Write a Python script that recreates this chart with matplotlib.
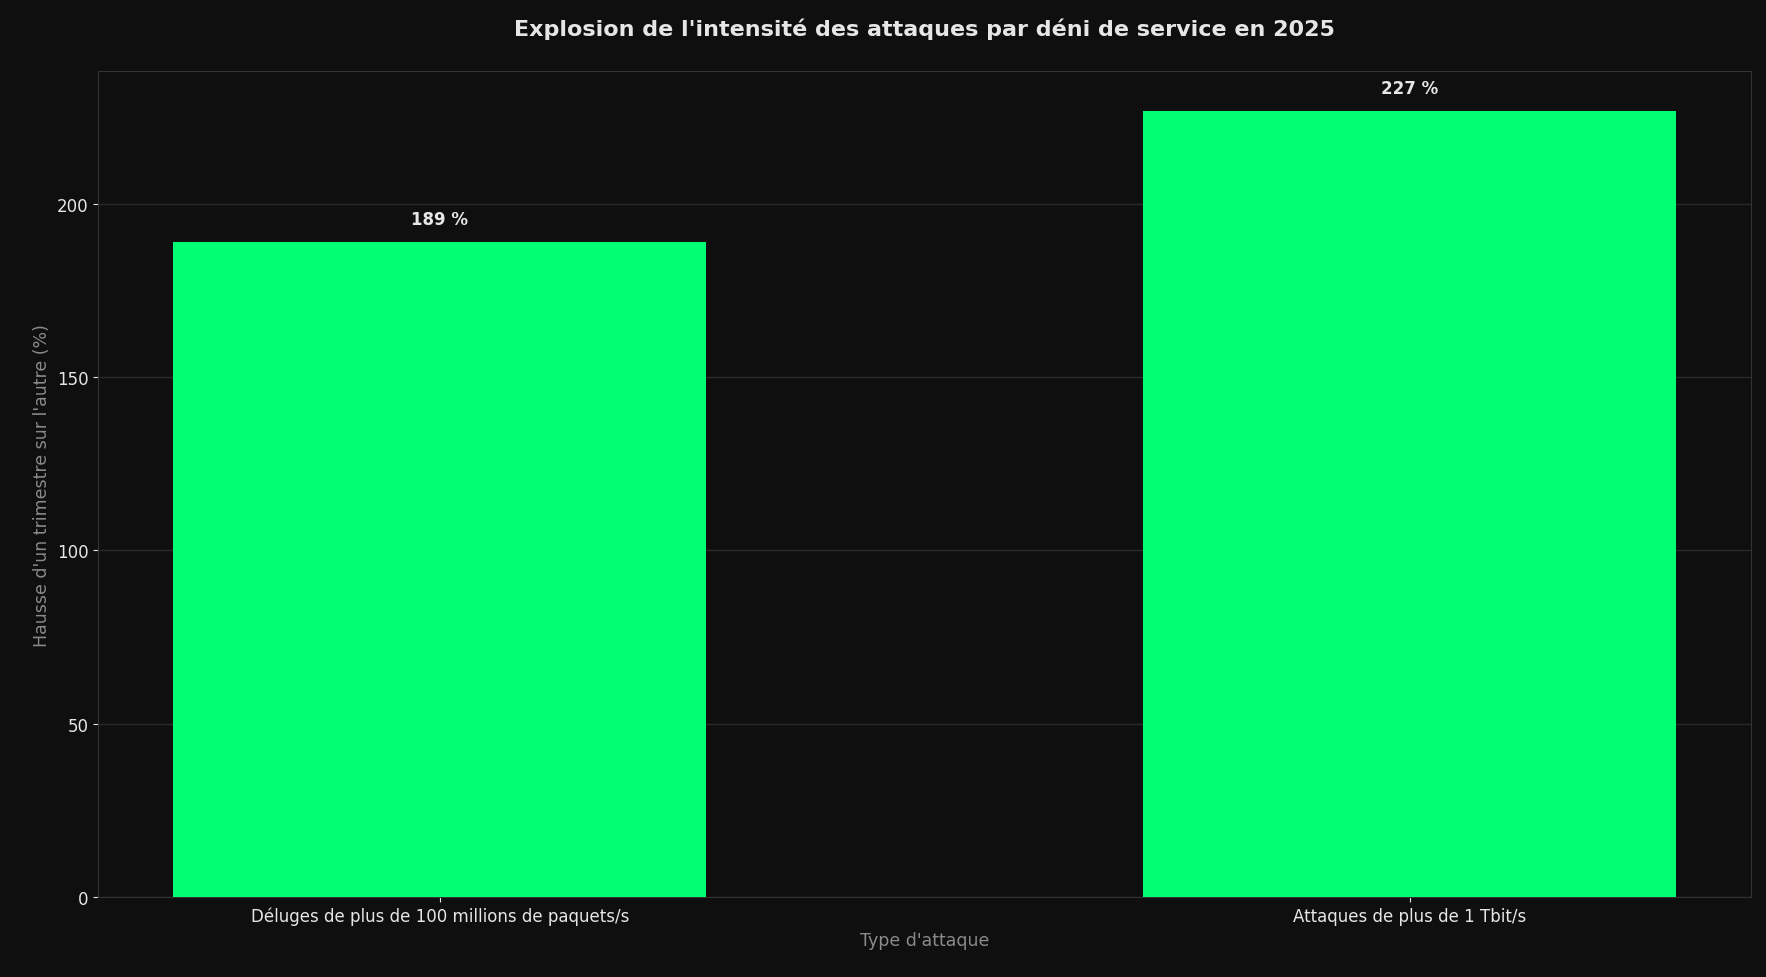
import matplotlib.pyplot as plt

categories = ["Déluges de plus de 100 millions de paquets/s", "Attaques de plus de 1 Tbit/s"]
values = [189, 227]
labels = ["189 %", "227 %"]

fig, ax = plt.subplots(figsize=(17.66, 9.78), dpi=100)
fig.patch.set_facecolor("#0f0f0f")
ax.set_facecolor("#0f0f0f")

bars = ax.bar(categories, values, width=0.55, color="#00ff73", zorder=3)
for b, lab in zip(bars, labels):
    ax.annotate(lab, (b.get_x() + b.get_width() / 2, b.get_height()),
                xytext=(0, 10), textcoords="offset points", ha="center", va="bottom",
                color="#e6e6e6", fontsize=12, fontweight="bold")

ax.set_ylim(0, 238.35)
ax.grid(axis="y", color="#2a2a2a", linewidth=1, zorder=0)
for s in ax.spines.values():
    s.set_color("#333333")
ax.tick_params(colors="#e6e6e6", labelsize=12)
ax.set_xlabel("Type d'attaque", color="#8a8a8a", fontsize=12.5)
ax.set_ylabel("Hausse d'un trimestre sur l'autre (%)", color="#8a8a8a", fontsize=12.5)
ax.set_title("Explosion de l'intensité des attaques par déni de service en 2025",
             color="#e6e6e6", fontsize=16, fontweight="bold", pad=26)

fig.subplots_adjust(left=0.0555, right=0.9917, top=0.926, bottom=0.082)
plt.savefig("out.png", facecolor=fig.get_facecolor())
